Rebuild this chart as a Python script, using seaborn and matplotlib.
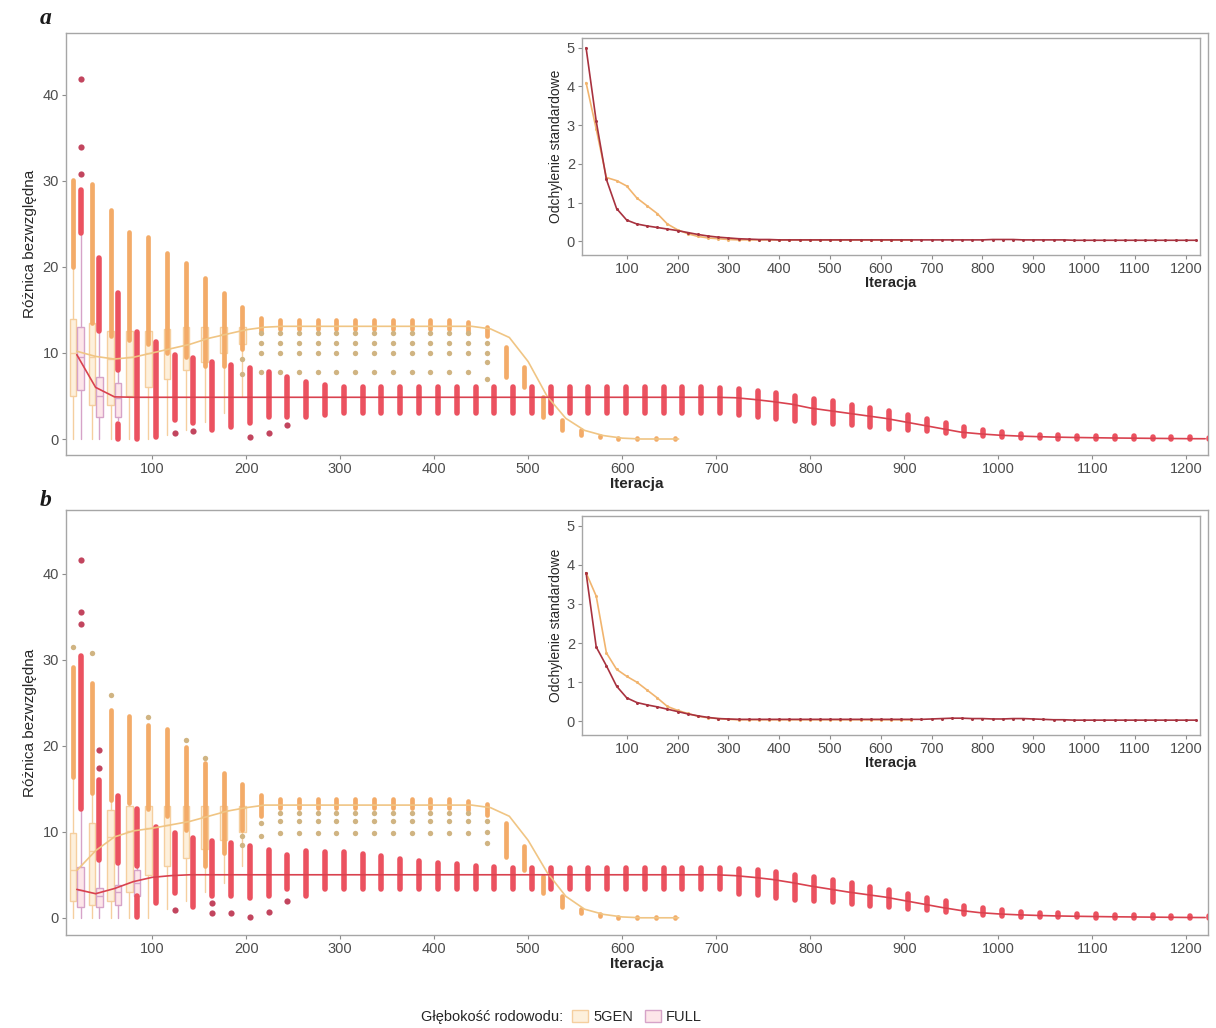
import numpy as np
import pandas as pd
import matplotlib
matplotlib.use("Agg")
import matplotlib.pyplot as plt
import seaborn as sns
from matplotlib.patches import Patch

sns.set_theme(style="white")
plt.rcParams["font.family"] = ["Liberation Sans", "DejaVu Sans"]

# ---------------- data ----------------
iters_5 = list(range(20, 661, 20))      # 5GEN boxes
iters_F = list(range(20, 1221, 20))     # FULL boxes

# ---- panel a : 5GEN outlier columns (top / bottom of dense part)
hi5_a = [30.1, 29.7, 26.6, 24.1, 23.5, 21.6, 20.5, 18.7, 17.0, 15.4, 14.1,
         13.8, 13.8, 13.8, 13.8, 13.8, 13.8, 13.8, 13.8, 13.8, 13.8, 13.6, 13.0,
         10.7, 8.4, 4.9, 2.2, 1.0, 0.4, 0.1, 0.1, 0.1, 0.1]
lo5_a = [20.0, 13.5, 12.0, 11.5, 11.0, 10.0, 9.5, 8.5, 8.5, 10.5, 12.5,
         12.8, 12.8, 12.8, 12.8, 12.8, 12.8, 12.8, 12.8, 12.8, 12.8, 12.5, 12.0,
         7.2, 6.1, 2.6, 1.0, 0.5, 0.2, 0.0, 0.0, 0.0, 0.0]
plateau_it_a = [220, 240, 260, 280, 300, 320, 340, 360, 380, 400, 420, 440]
plateau_lv_a = [12.3, 11.2, 10.0, 7.8]
dot5_a_it = [200, 200, 460, 460, 460, 460]
dot5_a_v = [9.3, 7.6, 11.2, 10.0, 8.9, 7.0]
line5_a = [10.2, 9.6, 9.3, 9.5, 10.0, 10.5, 11.0, 11.7, 12.2, 12.7, 13.0,
           13.1, 13.1, 13.1, 13.1, 13.1, 13.1, 13.1, 13.1, 13.1, 13.1, 13.1, 12.8,
           11.8, 9.0, 5.0, 2.4, 1.0, 0.4, 0.1, 0.0, 0.0, 0.0]
# 5GEN boxes (first iterations)
box5_a_it = [20, 40, 60, 80, 100, 120, 140, 160, 180, 200]
box5_a_q1 = [5.0, 4.0, 4.0, 5.0, 6.0, 7.0, 8.0, 9.0, 10.0, 11.0]
box5_a_med = [10.0, 9.5, 9.3, 9.5, 10.0, 10.5, 11.0, 11.7, 12.2, 12.7]
box5_a_q3 = [14.0, 13.5, 12.5, 12.5, 12.5, 12.8, 13.0, 13.0, 13.0, 13.0]
box5_a_wlo = [0.0, 0.0, 0.0, 0.0, 0.0, 0.5, 1.0, 2.0, 3.0, 5.0]
box5_a_whi = [20.0, 13.5, 12.5, 12.5, 12.5, 12.8, 13.0, 13.0, 13.0, 13.0]

# ---- panel a : FULL
hiF_a = [29.0, 21.0, 17.0, 12.4, 11.3, 9.8, 9.4, 9.0, 8.6, 8.3, 7.8, 7.2, 6.6, 6.3,
         6.1, 6.0, 6.0, 6.0, 6.0, 6.0, 6.0, 6.0, 6.0, 6.0, 6.0, 6.0, 6.0, 6.0, 6.0,
         6.0, 6.0, 6.0, 6.0, 6.0, 5.9,
         5.8, 5.6, 5.3, 5.0, 4.7, 4.4, 4.0, 3.6, 3.2, 2.8, 2.3, 1.9, 1.4, 1.0, 0.8,
         0.6, 0.5, 0.45, 0.4, 0.35, 0.3, 0.3, 0.25, 0.2, 0.2, 0.15]
loF_a = [24.0, 12.5, 8.0, 0.0, 0.2, 2.2, 1.9, 1.0, 1.4, 1.9, 2.6, 2.6, 2.6, 2.8,
         3.0, 3.0, 3.0, 3.0, 3.0, 3.0, 3.0, 3.0, 3.0, 3.0, 3.0, 3.0, 3.0, 3.0, 3.0,
         3.0, 3.0, 3.0, 3.0, 3.0, 3.0,
         2.8, 2.6, 2.3, 2.1, 1.9, 1.8, 1.6, 1.4, 1.2, 1.0, 0.9, 0.7, 0.4, 0.3, 0.2,
         0.15, 0.1, 0.05, 0.05, 0.0, 0.0, 0.0, 0.0, 0.0, 0.0, 0.0]
segF_a_it = [60]
segF_a_lo = [0.0]
segF_a_hi = [1.8]
dotF_a_it = [20, 20, 20, 120, 140, 200, 220, 240]
dotF_a_v = [30.8, 34.0, 41.8, 0.7, 0.9, 0.2, 0.7, 1.6]
lineF_a = [9.8, 6.0, 4.9, 4.85, 4.85, 4.85, 4.85, 4.85, 4.85, 4.85, 4.85, 4.85, 4.85, 4.85,
           4.85, 4.85, 4.85, 4.85, 4.85, 4.85, 4.85, 4.85, 4.85, 4.85, 4.85, 4.85, 4.85,
           4.85, 4.85, 4.85, 4.85, 4.85, 4.85, 4.85, 4.85,
           4.8, 4.6, 4.35, 4.05, 3.6, 3.3, 3.0, 2.7, 2.4, 2.0, 1.6, 1.2, 0.8, 0.6, 0.45,
           0.35, 0.28, 0.22, 0.18, 0.15, 0.12, 0.1, 0.08, 0.06, 0.04, 0.03]
boxF_a_it = [20, 40, 60]
boxF_a_q1 = [5.7, 2.6, 2.5]
boxF_a_med = [9.5, 5.0, 4.8]
boxF_a_q3 = [13.0, 7.2, 6.5]
boxF_a_wlo = [0.0, 0.0, 2.2]
boxF_a_whi = [24.0, 12.5, 8.0]

# ---- panel b : 5GEN
hi5_b = [29.2, 27.3, 24.2, 23.4, 22.4, 21.9, 19.9, 18.0, 16.8, 15.5, 14.3,
         13.8, 13.8, 13.8, 13.8, 13.8, 13.8, 13.8, 13.8, 13.8, 13.8, 13.6, 13.2,
         11.0, 8.3, 4.8, 2.5, 1.0, 0.4, 0.1, 0.1, 0.1, 0.1]
lo5_b = [16.4, 14.5, 13.7, 13.3, 12.6, 11.8, 10.2, 6.0, 7.5, 10.2, 11.8,
         12.8, 12.8, 12.8, 12.8, 12.8, 12.8, 12.8, 12.8, 12.8, 12.8, 12.5, 12.0,
         7.1, 5.6, 2.9, 1.3, 0.6, 0.2, 0.0, 0.0, 0.0, 0.0]
plateau_it_b = [240, 260, 280, 300, 320, 340, 360, 380, 400, 420, 440]
plateau_lv_b = [12.2, 11.2, 9.9]
dot5_b_it = [20, 40, 60, 100, 140, 160, 200, 200, 220, 220, 460, 460, 460]
dot5_b_v = [31.5, 30.8, 25.9, 23.3, 20.7, 18.6, 9.5, 8.5, 11.0, 9.5, 11.2, 10.0, 8.7]
line5_b = [5.5, 7.8, 9.4, 10.1, 10.4, 10.8, 11.2, 11.8, 12.4, 12.8, 13.1,
           13.1, 13.1, 13.1, 13.1, 13.1, 13.1, 13.1, 13.1, 13.1, 13.1, 13.1, 12.8,
           11.8, 9.0, 5.3, 2.5, 1.0, 0.4, 0.1, 0.0, 0.0, 0.0]
box5_b_it = [20, 40, 60, 80, 100, 120, 140, 160, 180, 200]
box5_b_q1 = [2.0, 1.5, 2.0, 3.0, 5.0, 6.0, 7.0, 8.0, 9.0, 10.0]
box5_b_med = [5.5, 7.8, 9.4, 10.1, 10.4, 10.8, 11.2, 11.8, 12.4, 12.8]
box5_b_q3 = [9.9, 11.0, 12.5, 13.0, 13.0, 13.0, 13.0, 13.0, 13.0, 13.0]
box5_b_wlo = [0.0, 0.0, 0.0, 0.0, 0.0, 1.0, 2.0, 3.0, 4.0, 6.0]
box5_b_whi = [16.4, 14.5, 13.7, 13.3, 13.0, 13.0, 13.0, 13.0, 13.0, 13.0]

# ---- panel b : FULL
hiF_b = [30.4, 16.0, 14.1, 12.6, 10.6, 9.9, 9.3, 8.9, 8.7, 8.3, 7.9, 7.3, 7.8, 7.7,
         7.6, 7.4, 7.2, 6.8, 6.6, 6.4, 6.2, 6.0, 5.9, 5.8, 5.8, 5.8, 5.8, 5.8, 5.8,
         5.8, 5.8, 5.8, 5.8, 5.8, 5.8,
         5.7, 5.5, 5.3, 5.0, 4.7, 4.4, 4.0, 3.6, 3.2, 2.8, 2.3, 1.9, 1.4, 1.1, 0.9,
         0.7, 0.6, 0.5, 0.45, 0.4, 0.35, 0.3, 0.3, 0.25, 0.2, 0.2]
loF_b = [12.6, 6.7, 6.4, 6.0, 1.7, 2.9, 1.3, 2.5, 2.5, 2.3, 2.5, 3.3, 2.5, 3.3,
         3.4, 3.4, 3.4, 3.4, 3.4, 3.4, 3.4, 3.4, 3.4, 3.4, 3.4, 3.4, 3.4, 3.4, 3.4,
         3.4, 3.4, 3.4, 3.4, 3.4, 3.4,
         2.8, 2.6, 2.3, 2.1, 1.9, 1.8, 1.6, 1.4, 1.2, 1.0, 0.9, 0.7, 0.4, 0.3, 0.2,
         0.15, 0.1, 0.05, 0.05, 0.0, 0.0, 0.0, 0.0, 0.0, 0.0, 0.0]
segF_b_it = [80]
segF_b_lo = [0.1]
segF_b_hi = [2.5]
dotF_b_it = [20, 20, 20, 40, 40, 120, 160, 160, 180, 200, 220, 240]
dotF_b_v = [35.6, 34.1, 41.6, 19.5, 17.4, 0.9, 1.7, 0.6, 0.6, 0.1, 0.7, 1.9]
lineF_b = [3.3, 2.8, 3.4, 4.2, 4.7, 4.9, 5.0, 5.0, 5.0, 5.0, 5.0, 5.0, 5.0, 5.0,
           5.0, 5.0, 5.0, 5.0, 5.0, 5.0, 5.0, 5.0, 5.0, 5.0, 5.0, 5.0, 5.0, 5.0, 5.0,
           5.0, 5.0, 5.0, 5.0, 5.0, 5.0,
           4.9, 4.7, 4.45, 4.1, 3.7, 3.35, 3.0, 2.7, 2.4, 2.0, 1.6, 1.2, 0.85, 0.6, 0.45,
           0.35, 0.28, 0.22, 0.18, 0.15, 0.12, 0.1, 0.08, 0.06, 0.04, 0.03]
boxF_b_it = [20, 40, 60, 80]
boxF_b_q1 = [1.3, 1.3, 1.5, 2.5]
boxF_b_med = [3.2, 2.5, 3.0, 4.0]
boxF_b_q3 = [5.9, 3.5, 3.8, 5.5]
boxF_b_wlo = [0.0, 0.0, 0.0, 0.0]
boxF_b_whi = [12.6, 6.7, 6.4, 6.0]

# ---- insets : standard deviation
sd5_a = [4.1, 2.9, 1.65, 1.57, 1.43, 1.12, 0.92, 0.72, 0.45, 0.3, 0.2, 0.13, 0.09,
         0.07, 0.05, 0.04, 0.04, 0.04, 0.04, 0.04, 0.04, 0.04, 0.04, 0.04, 0.04,
         0.04, 0.04, 0.04, 0.04, 0.04, 0.04, 0.04, 0.04]
sdF_a = [5.0, 3.1, 1.6, 0.85, 0.55, 0.45, 0.4, 0.36, 0.32, 0.28, 0.23, 0.18, 0.14,
         0.11, 0.09, 0.07, 0.06, 0.05, 0.05, 0.04, 0.04, 0.04, 0.04, 0.04, 0.04,
         0.04, 0.04, 0.04, 0.04, 0.04, 0.04, 0.04, 0.04, 0.04, 0.04, 0.04, 0.04,
         0.04, 0.04, 0.04, 0.05, 0.05, 0.05, 0.04, 0.04, 0.04, 0.04, 0.04, 0.03,
         0.03, 0.03, 0.03, 0.03, 0.03, 0.03, 0.03, 0.03, 0.03, 0.03, 0.03, 0.03]
sd5_b = [3.8, 3.2, 1.75, 1.33, 1.15, 1.0, 0.8, 0.6, 0.38, 0.28, 0.2, 0.13, 0.09,
         0.07, 0.05, 0.04, 0.04, 0.04, 0.04, 0.04, 0.04, 0.04, 0.04, 0.04, 0.04,
         0.04, 0.04, 0.04, 0.04, 0.04, 0.04, 0.04, 0.04]
sdF_b = [3.8, 1.9, 1.42, 0.9, 0.6, 0.48, 0.42, 0.37, 0.31, 0.25, 0.19, 0.14, 0.1,
         0.07, 0.06, 0.05, 0.05, 0.05, 0.05, 0.05, 0.05, 0.05, 0.05, 0.05, 0.05,
         0.05, 0.05, 0.05, 0.05, 0.05, 0.05, 0.05, 0.05, 0.05, 0.06, 0.07, 0.08,
         0.08, 0.07, 0.07, 0.06, 0.06, 0.07, 0.07, 0.06, 0.05, 0.04, 0.04, 0.03,
         0.03, 0.03, 0.03, 0.03, 0.03, 0.03, 0.03, 0.03, 0.03, 0.03, 0.03, 0.03]

x_ticks = [100, 200, 300, 400, 500, 600, 700, 800, 900, 1000, 1100, 1200]
y_ticks = [0, 10, 20, 30, 40]
inset_y_ticks = [0, 1, 2, 3, 4, 5]
legend_title = "Głębokość rodowodu:"
series_names = ["5GEN", "FULL"]

# ---------------- style ----------------
C5_col, C5_dot, C5_face, C5_edge, C5_line = "#f3ab68", "#d0b482", "#fdf0dc", "#f5cf9f", "#f0c584"
CF_col, CF_dot, CF_face, CF_edge, CF_line = "#eb5260", "#c2455e", "#fde6e9", "#d6a3c8", "#d9424f"
IN5, INF = "#f1b46e", "#a8323f"
GREY = "#4d4d4d"
OFF = 4  # dodge offset (iterations)

W, H = 1216, 1028
fig = plt.figure(figsize=(W / 100, H / 100), dpi=100)


def rect(l, t, r, b):
    return [l / W, 1 - b / H, (r - l) / W, (b - t) / H]


def style_axes(ax, fs=10.5):
    for s in ax.spines.values():
        s.set_visible(True)
        s.set_color("#a6a6a6")
        s.set_linewidth(1.0)
    ax.tick_params(axis="both", which="both", direction="out", length=3, width=0.8,
                   color="#8c8c8c", labelcolor=GREY, labelsize=fs, pad=2,
                   bottom=True, left=True)
    ax.grid(False)


def boxes(ax, its, q1, med, q3, wlo, whi, shift, face, edge):
    stats = [dict(med=m, q1=a, q3=b, whislo=lo, whishi=hi, fliers=[])
             for m, a, b, lo, hi in zip(med, q1, q3, wlo, whi)]
    ax.bxp(stats, positions=[i + shift for i in its], widths=7, patch_artist=True,
           showfliers=False, manage_ticks=False, showcaps=False,
           boxprops=dict(facecolor=face, edgecolor=edge, linewidth=1.0),
           whiskerprops=dict(color=edge, linewidth=1.0),
           medianprops=dict(color=edge, linewidth=1.0), zorder=2)


def columns(ax, its, lo, hi, shift, color, lw=4.0, z=3):
    lc = ax.vlines([i + shift for i in its], lo, hi, colors=color, linewidth=lw, zorder=z)
    lc.set_capstyle("round")


def panel(ax, d):
    boxes(ax, d["b5_it"], d["b5_q1"], d["b5_med"], d["b5_q3"], d["b5_wlo"], d["b5_whi"],
          -OFF, C5_face, C5_edge)
    columns(ax, iters_5, d["lo5"], d["hi5"], -OFF, C5_col, lw=3.4)
    pl = pd.DataFrame([(i - OFF, v) for i in d["pl_it"] for v in d["pl_lv"]] +
                      [(i - OFF, v) for i, v in zip(d["d5_it"], d["d5_v"])],
                      columns=["x", "y"])
    sns.scatterplot(data=pl, x="x", y="y", ax=ax, color=C5_dot, s=15, linewidth=0,
                    zorder=3, legend=False)
    boxes(ax, d["bF_it"], d["bF_q1"], d["bF_med"], d["bF_q3"], d["bF_wlo"], d["bF_whi"],
          OFF, CF_face, CF_edge)
    columns(ax, iters_F, d["loF"], d["hiF"], OFF, CF_col, lw=4.0, z=4)
    columns(ax, d["sF_it"], d["sF_lo"], d["sF_hi"], OFF, CF_col, lw=4.0, z=4)
    dF = pd.DataFrame({"x": [i + OFF for i in d["dF_it"]], "y": d["dF_v"]})
    sns.scatterplot(data=dF, x="x", y="y", ax=ax, color=CF_dot, s=20, linewidth=0,
                    zorder=4, legend=False)
    l5 = pd.DataFrame({"x": iters_5, "y": d["line5"]})
    lF = pd.DataFrame({"x": iters_F, "y": d["lineF"]})
    sns.lineplot(data=l5, x="x", y="y", ax=ax, color=C5_line, linewidth=1.2, zorder=5)
    sns.lineplot(data=lF, x="x", y="y", ax=ax, color=CF_line, linewidth=1.2, zorder=6)
    ax.set_xlim(8.5, 1223)
    ax.set_xticks(x_ticks)
    ax.set_yticks(y_ticks)
    ax.set_xlabel("Iteracja", fontsize=11, color="#262626", fontweight="bold", labelpad=1)
    ax.set_ylabel("Różnica bezwzględna", fontsize=11, color="#262626", labelpad=4)
    style_axes(ax)


def inset(ax, s5, sF):
    d5 = pd.DataFrame({"x": iters_5, "y": s5})
    dF = pd.DataFrame({"x": iters_F, "y": sF})
    sns.lineplot(data=d5, x="x", y="y", ax=ax, color=IN5, linewidth=1.2,
                 marker="o", markersize=2.2, markeredgewidth=0)
    sns.lineplot(data=dF, x="x", y="y", ax=ax, color=INF, linewidth=1.2,
                 marker="o", markersize=2.2, markeredgewidth=0)
    ax.set_xlim(12, 1228)
    ax.set_ylim(-0.35, 5.25)
    ax.set_xticks(x_ticks)
    ax.set_yticks(inset_y_ticks)
    ax.set_xlabel("Iteracja", fontsize=10.5, color="#262626", fontweight="bold", labelpad=0)
    ax.set_ylabel("Odchylenie standardowe", fontsize=10, color="#262626", labelpad=3)
    ax.set_facecolor("white")
    style_axes(ax, fs=10.5)


pa = dict(hi5=hi5_a, lo5=lo5_a, pl_it=plateau_it_a, pl_lv=plateau_lv_a, d5_it=dot5_a_it,
          d5_v=dot5_a_v, line5=line5_a, b5_it=box5_a_it, b5_q1=box5_a_q1, b5_med=box5_a_med,
          b5_q3=box5_a_q3, b5_wlo=box5_a_wlo, b5_whi=box5_a_whi,
          hiF=hiF_a, loF=loF_a, sF_it=segF_a_it, sF_lo=segF_a_lo, sF_hi=segF_a_hi,
          dF_it=dotF_a_it, dF_v=dotF_a_v, lineF=lineF_a, bF_it=boxF_a_it, bF_q1=boxF_a_q1,
          bF_med=boxF_a_med, bF_q3=boxF_a_q3, bF_wlo=boxF_a_wlo, bF_whi=boxF_a_whi)
pb = dict(hi5=hi5_b, lo5=lo5_b, pl_it=plateau_it_b, pl_lv=plateau_lv_b, d5_it=dot5_b_it,
          d5_v=dot5_b_v, line5=line5_b, b5_it=box5_b_it, b5_q1=box5_b_q1, b5_med=box5_b_med,
          b5_q3=box5_b_q3, b5_wlo=box5_b_wlo, b5_whi=box5_b_whi,
          hiF=hiF_b, loF=loF_b, sF_it=segF_b_it, sF_lo=segF_b_lo, sF_hi=segF_b_hi,
          dF_it=dotF_b_it, dF_v=dotF_b_v, lineF=lineF_b, bF_it=boxF_b_it, bF_q1=boxF_b_q1,
          bF_med=boxF_b_med, bF_q3=boxF_b_q3, bF_wlo=boxF_b_wlo, bF_whi=boxF_b_whi)

ax_a = fig.add_axes(rect(66, 33, 1208, 455))
panel(ax_a, pa)
ax_a.set_ylim(-1.86, 47.2)
ax_b = fig.add_axes(rect(66, 510, 1208, 935))
panel(ax_b, pb)
ax_b.set_ylim(-2.0, 47.4)

in_a = fig.add_axes(rect(582, 38, 1200, 255))
inset(in_a, sd5_a, sdF_a)
in_b = fig.add_axes(rect(582, 516, 1200, 735))
inset(in_b, sd5_b, sdF_b)

for lab, y in (("a", 18), ("b", 500)):
    fig.text(40 / W, 1 - y / H, lab, fontsize=17, fontstyle="italic", fontweight="bold",
             family=["Liberation Serif", "DejaVu Serif"], ha="left", va="center", color="#1a1a1a")

# legend
fig.text(563 / W, 1 - 1017 / H, legend_title, ha="right", va="center", fontsize=10.5, color="#262626")
handles = [Patch(facecolor=C5_face, edgecolor=C5_edge, linewidth=1.0),
           Patch(facecolor=CF_face, edgecolor=CF_edge, linewidth=1.0)]
fig.legend(handles, series_names, loc="center left", bbox_to_anchor=(572 / W, 1 - 1017 / H),
           ncol=2, frameon=False, fontsize=10.5, handlelength=1.1, handleheight=0.9,
           handletextpad=0.35, columnspacing=0.8, borderaxespad=0, borderpad=0,
           labelcolor="#262626")

fig.savefig("out.png", dpi=100)
